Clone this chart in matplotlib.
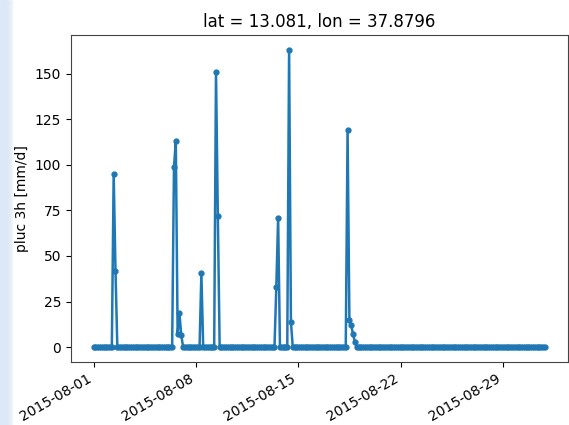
import numpy as np
import pandas as pd
import matplotlib
matplotlib.use("Agg")
import matplotlib.pyplot as plt
import matplotlib.dates as mdates
from matplotlib.patches import Rectangle

# ---- data ----
start_time = "2015-08-01 00:00"
end_time = "2015-08-31 21:00"
freq = "3h"
spike_times = [
    "2015-08-02 09:00", "2015-08-02 12:00",
    "2015-08-06 12:00", "2015-08-06 15:00", "2015-08-06 18:00",
    "2015-08-06 21:00", "2015-08-07 00:00",
    "2015-08-08 09:00",
    "2015-08-09 09:00", "2015-08-09 12:00",
    "2015-08-13 12:00", "2015-08-13 15:00",
    "2015-08-14 09:00", "2015-08-14 12:00",
    "2015-08-18 09:00", "2015-08-18 12:00", "2015-08-18 15:00",
    "2015-08-18 18:00", "2015-08-18 21:00",
]
spike_values = [
    95.0, 42.0,
    98.5, 113.0, 7.0, 18.5, 6.5,
    40.5,
    151.0, 72.0,
    33.0, 71.0,
    163.0, 14.0,
    119.0, 15.0, 12.0, 7.0, 3.0,
]
title = "lat = 13.081, lon = 37.8796"
ylabel = "pluc 3h [mm/d]"
tick_dates = ["2015-08-01", "2015-08-08", "2015-08-15", "2015-08-22", "2015-08-29"]

times = pd.date_range(start_time, end_time, freq=freq)
series = pd.Series(0.0, index=times)
series.loc[pd.to_datetime(spike_times)] = spike_values

# ---- figure ----
W, H = 569, 425
fig = plt.figure(figsize=(W / 100, H / 100), dpi=100)

# light blue strip on the left edge (screenshot background)
for i, a in enumerate(np.linspace(1.0, 0.0, 14)):
    fig.patches.append(Rectangle((i / W, 0), 1 / W, 1, transform=fig.transFigure,
                                 color="#dce8f7", alpha=a, zorder=-1))

left, right, top, bottom = 71, 567.5, 35, 362
ax = fig.add_axes([left / W, (H - bottom) / H, (right - left) / W, (bottom - top) / H])
ax.plot(series.index, series.values, marker=".", color="#1f77b4",
        linewidth=1.8, markersize=7)

ax.set_title(title, fontsize=12)
ax.set_ylabel(ylabel)
ax.set_yticks([0, 25, 50, 75, 100, 125, 150])
ax.set_xticks(pd.to_datetime(tick_dates))
ax.xaxis.set_major_formatter(mdates.DateFormatter("%Y-%m-%d"))
for lbl in ax.get_xticklabels():
    lbl.set_rotation(30)
    lbl.set_ha("right")
for sp in ax.spines.values():
    sp.set_color("#444444")

fig.savefig("out.png", dpi=100)
